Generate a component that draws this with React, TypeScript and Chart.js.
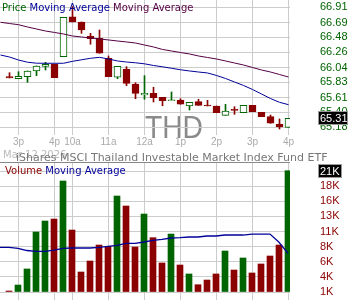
import React, { useEffect, useRef } from "react";
import { Chart, registerables } from "chart.js";
Chart.register(...registerables);

const SYMBOL = "THD";
const FUND_NAME = "iShares MSCI Thailand Investable Market Index Fund ETF";
const DATE_LABEL = "Mar 12 2026";

// 15-minute candles, positioned by slot index
const candleSlots = [1, 2, 3, 4, 5, 6, 7, 8, 9, 10, 11, 12, 13, 14, 15, 16, 17, 18, 19, 20, 21, 22, 23, 24, 25, 26, 27, 28, 29, 30, 31, 32];
const opens = [65.912, 65.881, 65.909, 65.992, 66.059, 66.088, 66.198, 66.774, 66.698, 66.496, 66.463, 66.175, 65.901, 66.016, 65.804, 65.646, 65.670, 65.612, 65.563, 65.574, 65.487, 65.549, 65.491, 65.487, 65.353, 65.434, 65.390, 65.497, 65.396, 65.333, 65.228, 65.180];
const highs = [65.967, 65.982, 65.992, 66.064, 66.117, 66.088, 66.766, 66.919, 66.698, 66.535, 66.583, 66.208, 66.059, 66.054, 65.823, 65.924, 65.757, 65.612, 65.689, 65.592, 65.540, 65.584, 65.569, 65.487, 65.512, 65.477, 65.497, 65.497, 65.396, 65.357, 65.300, 65.310];
const lows = [65.891, 65.881, 65.829, 65.924, 66.006, 65.895, 66.198, 66.698, 66.535, 66.377, 66.247, 65.909, 65.881, 65.780, 65.592, 65.584, 65.545, 65.491, 65.563, 65.512, 65.429, 65.497, 65.487, 65.390, 65.353, 65.367, 65.390, 65.405, 65.333, 65.238, 65.155, 65.180];
const closes = [65.891, 65.915, 65.992, 66.064, 66.088, 65.895, 66.766, 66.698, 66.583, 66.457, 66.247, 65.909, 66.059, 65.814, 65.670, 65.670, 65.607, 65.563, 65.569, 65.512, 65.540, 65.497, 65.487, 65.390, 65.415, 65.425, 65.497, 65.405, 65.333, 65.238, 65.184, 65.310];
const volumeK = [1.76, 2.73, 5.33, 11.32, 13.10, 13.42, 19.58, 11.64, 4.84, 6.62, 9.21, 9.00, 17.15, 15.53, 8.89, 14.23, 10.40, 6.30, 10.99, 5.97, 4.52, 2.78, 3.54, 4.52, 8.24, 5.16, 7.11, 4.68, 6.14, 7.43, 9.21, 21.25];

// moving averages (slot 0 .. 32)
const maSlots = [0, 1, 2, 3, 4, 5, 6, 7, 8, 9, 10, 11, 12, 13, 14, 15, 16, 17, 18, 19, 20, 21, 22, 23, 24, 25, 26, 27, 28, 29, 30, 31, 32];
const priceMaShort = [66.222, 66.193, 66.150, 66.118, 66.104, 66.103, 66.103, 66.103, 66.131, 66.153, 66.175, 66.188, 66.165, 66.136, 66.121, 66.110, 66.095, 66.071, 66.052, 66.031, 66.009, 65.992, 65.977, 65.963, 65.927, 65.884, 65.833, 65.783, 65.725, 65.660, 65.595, 65.540, 65.506];
const priceMaLong = [66.694, 66.676, 66.659, 66.626, 66.597, 66.568, 66.547, 66.525, 66.496, 66.482, 66.467, 66.453, 66.439, 66.424, 66.410, 66.395, 66.366, 66.338, 66.302, 66.280, 66.258, 66.237, 66.208, 66.186, 66.165, 66.136, 66.107, 66.078, 66.042, 66.006, 65.977, 65.941, 65.905];
const volumeMaK = [8.84, 8.84, 8.68, 8.32, 8.19, 8.19, 8.40, 8.68, 8.73, 8.73, 8.73, 8.84, 9.00, 9.16, 9.48, 9.48, 9.70, 9.97, 10.14, 10.35, 10.40, 10.51, 10.51, 10.67, 10.67, 10.83, 10.83, 10.83, 10.99, 10.99, 10.99, 9.65, 7.87];

// axes
const timeTickSlots = [2, 6, 8, 12, 16, 20, 24, 28, 32];
const timeTickLabels = ["3p", "4p", "10a", "11a", "12a", "1p", "2p", "3p", "4p"];
const priceTicks = [66.91, 66.69, 66.48, 66.26, 66.04, 65.83, 65.61, 65.40, 65.18];
const volumeTicksK = [1.6, 4.05, 6.5, 8.95, 11.4, 13.85, 16.3, 18.75, 21.2];
const volumeTickLabels = ["1K", "4K", "6K", "8K", "11K", "13K", "16K", "18K", "21K"];

const GREEN = "#006400";
const RED = "#8b0000";
const BLUE = "#000099";
const PURPLE = "#550044";
const GRID = "#cccccc";

const zeroPad = (s) => {
  s.paddingTop = 0;
  s.paddingBottom = 0;
  s.paddingLeft = 0;
  s.paddingRight = 0;
};

export default function App() {
  const priceRef = useRef(null);
  const volRef = useRef(null);

  useEffect(() => {
    const up = closes.map((c, i) => c >= opens[i]);
    const lastClose = closes[closes.length - 1];
    const lastVol = volumeK[volumeK.length - 1];

    const pricePlugin = {
      id: "priceDecor",
      beforeDraw(chart) {
        const ctx = chart.ctx;
        ctx.save();
        ctx.font = '32px "Liberation Sans"';
        ctx.fillStyle = "#8a8a8a";
        ctx.textBaseline = "alphabetic";
        ctx.fillText(SYMBOL, 145, 138, 58);
        ctx.restore();
      },
      afterDraw(chart) {
        const ctx = chart.ctx;
        ctx.save();
        ctx.textBaseline = "alphabetic";
        ctx.font = '10px "DejaVu Sans"';
        const parts = [["Price", GREEN], [" Moving Average", BLUE], [" Moving Average", PURPLE]];
        let x = 2;
        for (const [t, c] of parts) {
          ctx.fillStyle = c;
          ctx.fillText(t, x, 10.5);
          x += ctx.measureText(t).width;
        }
        ctx.font = '10px "DejaVu Sans"';
        ctx.fillStyle = "#bbbbbb";
        ctx.fillText(DATE_LABEL, 3, 158);
        ctx.font = '11px "DejaVu Sans"';
        ctx.fillStyle = "#777777";
        ctx.fillText(FUND_NAME, 16, 161);
        const y = Math.round(chart.scales.y.getPixelForValue(lastClose));
        ctx.fillStyle = "#000";
        ctx.fillRect(319, y - 6, 28, 12);
        ctx.strokeStyle = "#999";
        ctx.lineWidth = 1;
        ctx.strokeRect(318.5, y - 6.5, 29, 13);
        ctx.fillStyle = "#fff";
        ctx.font = '11px "Liberation Sans"';
        ctx.textBaseline = "middle";
        ctx.fillText(lastClose.toFixed(2), 320, y + 0.5);
        ctx.restore();
      },
    };

    const volPlugin = {
      id: "volDecor",
      afterDraw(chart) {
        const ctx = chart.ctx;
        const area = chart.chartArea;
        ctx.save();
        ctx.strokeStyle = "#888";
        ctx.lineWidth = 1;
        ctx.beginPath();
        ctx.moveTo(area.left, 0.5);
        ctx.lineTo(area.right, 0.5);
        ctx.stroke();
        ctx.textBaseline = "alphabetic";
        ctx.font = '10px "DejaVu Sans"';
        const parts = [["Volume", RED], [" Moving Average", BLUE]];
        let x = 5;
        for (const [t, c] of parts) {
          ctx.fillStyle = c;
          ctx.fillText(t, x, 11.5);
          x += ctx.measureText(t).width;
        }
        const y = Math.round(chart.scales.y.getPixelForValue(lastVol));
        ctx.fillStyle = "#000";
        ctx.fillRect(319, y - 6, 22, 12);
        ctx.strokeStyle = "#999";
        ctx.strokeRect(318.5, y - 6.5, 23, 13);
        ctx.fillStyle = "#fff";
        ctx.font = '11px "Liberation Sans"';
        ctx.textBaseline = "middle";
        ctx.fillText(Math.round(lastVol) + "K", 320, y + 0.5);
        ctx.restore();
      },
    };

    const xScale = (minV, maxV, showLabels, height) => ({
      type: "linear",
      min: minV,
      max: maxV,
      offset: false,
      afterBuildTicks: (s) => {
        s.ticks = timeTickSlots.map((v) => ({ value: v }));
      },
      afterFit: (s) => {
        s.height = height;
        zeroPad(s);
      },
      grid: { color: GRID, drawTicks: false, offset: false },
      border: { display: false },
      ticks: {
        display: showLabels,
        autoSkip: false,
        maxRotation: 0,
        padding: 1,
        color: "#aaaaaa",
        font: { family: "Liberation Sans", size: 10 },
        callback: (v) => timeTickLabels[timeTickSlots.indexOf(v)],
      },
    });

    const yScale = (minV, maxV, tickValues, fmt, color) => ({
      position: "right",
      min: minV,
      max: maxV,
      afterBuildTicks: (s) => {
        s.ticks = tickValues.map((v) => ({ value: v }));
      },
      afterFit: (s) => {
        s.width = 60;
        zeroPad(s);
      },
      grid: { color: GRID, drawTicks: false },
      border: { display: false },
      ticks: {
        autoSkip: false,
        padding: 30,
        color,
        font: { family: "Liberation Sans", size: 11 },
        callback: fmt,
      },
    });

    const baseOptions = {
      responsive: false,
      animation: false,
      devicePixelRatio: 1,
      layout: { padding: 0, autoPadding: false },
      plugins: { legend: { display: false }, tooltip: { enabled: false } },
    };

    const priceChart = new Chart(priceRef.current, {
      type: "bar",
      data: {
        datasets: [
          {
            type: "line",
            data: maSlots.map((x, i) => ({ x, y: priceMaShort[i] })),
            borderColor: BLUE,
            borderWidth: 1,
            pointRadius: 0,
            tension: 0,
          },
          {
            type: "line",
            data: maSlots.map((x, i) => ({ x, y: priceMaLong[i] })),
            borderColor: PURPLE,
            borderWidth: 1,
            pointRadius: 0,
            tension: 0,
          },
          {
            type: "bar",
            data: candleSlots.map((x, i) => ({ x, y: [opens[i], closes[i]] })),
            backgroundColor: up.map((u) => (u ? "#ffffff" : RED)),
            borderColor: up.map((u) => (u ? GREEN : RED)),
            borderWidth: 1,
            borderSkipped: false,
            barThickness: 7,
            minBarLength: 1,
            grouped: false,
          },
          {
            type: "bar",
            data: candleSlots.map((x, i) => ({ x, y: [lows[i], highs[i]] })),
            backgroundColor: up.map((u) => (u ? GREEN : RED)),
            borderWidth: 0,
            barThickness: 1,
            minBarLength: 1,
            grouped: false,
          },
        ],
      },
      options: {
        ...baseOptions,
        scales: {
          x: xScale(-0.5 / 9, 290 / 9 - 0.5 / 9, true, 27),
          y: yScale(65.069, 67.015, priceTicks, (v) => Number(v).toFixed(2), GREEN),
        },
      },
      plugins: [pricePlugin],
    });

    const volChart = new Chart(volRef.current, {
      type: "bar",
      data: {
        datasets: [
          {
            type: "line",
            data: maSlots.map((x, i) => ({ x, y: volumeMaK[i] })),
            borderColor: BLUE,
            borderWidth: 1.3,
            pointRadius: 0,
            tension: 0,
          },
          {
            type: "bar",
            data: candleSlots.map((x, i) => ({ x, y: volumeK[i] })),
            backgroundColor: up.map((u) => (u ? GREEN : RED)),
            borderWidth: 0,
            barThickness: 6,
            base: volumeTicksK[0],
            grouped: false,
          },
        ],
      },
      options: {
        ...baseOptions,
        scales: {
          x: xScale(0, 290 / 9, false, 0),
          y: yScale(0.304, 22.66, volumeTicksK, (v) => volumeTickLabels[volumeTicksK.indexOf(v)], RED),
        },
      },
      plugins: [volPlugin],
    });

    return () => {
      priceChart.destroy();
      volChart.destroy();
    };
  }, []);

  return (
    <div style={{ position: "absolute", left: 0, top: 0, width: 350, height: 300, background: "#fff" }}>
      <canvas ref={priceRef} width={350} height={162} style={{ position: "absolute", left: 0, top: 0 }} />
      <canvas ref={volRef} width={350} height={138} style={{ position: "absolute", left: 0, top: 162 }} />
    </div>
  );
}
